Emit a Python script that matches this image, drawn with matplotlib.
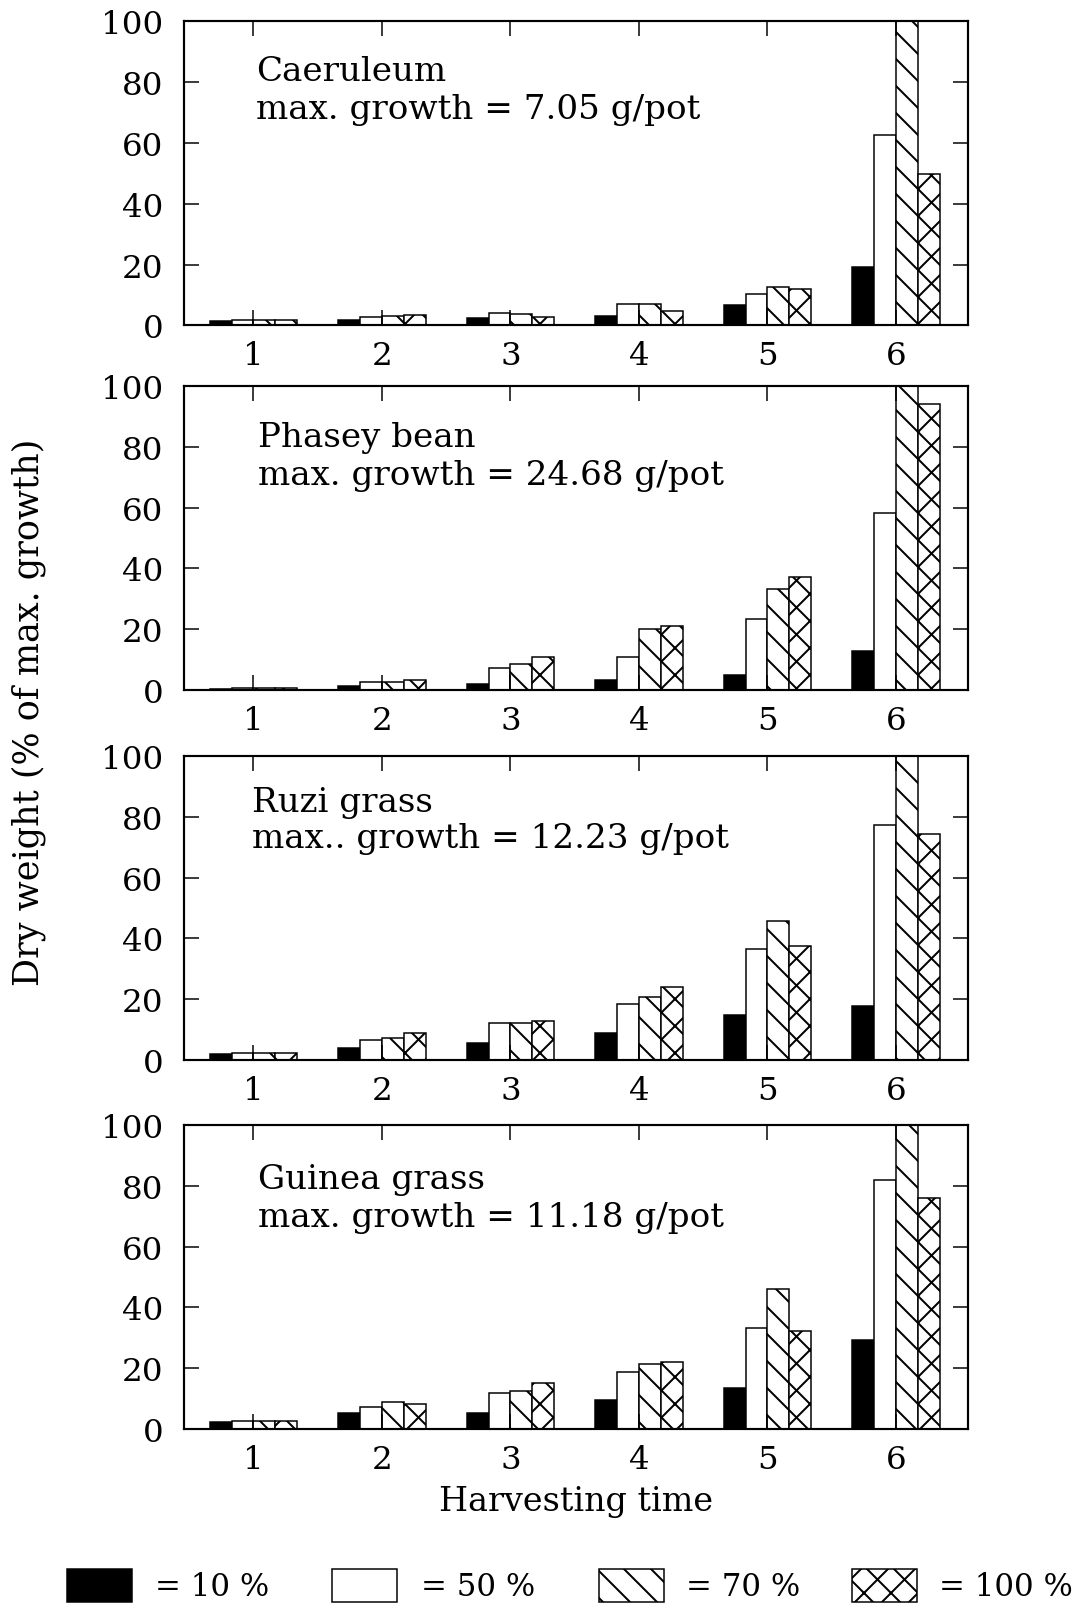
import matplotlib
matplotlib.use("Agg")
import matplotlib.pyplot as plt
from matplotlib.patches import Rectangle
import numpy as np

# Data (% of max. growth)
harvest = [1, 2, 3, 4, 5, 6]
levels = ["10 %", "50 %", "70 %", "100 %"]

caeruleum_10 = [1.4, 1.7, 2.5, 3.0, 6.7, 19.1]
caeruleum_50 = [1.9, 2.8, 4.2, 6.9, 10.2, 62.8]
caeruleum_70 = [1.9, 3.1, 3.8, 6.9, 12.7, 100.0]
caeruleum_100 = [1.9, 3.4, 2.9, 4.8, 12.0, 49.8]

phasey_10 = [0.3, 1.3, 2.1, 3.2, 4.9, 12.7]
phasey_50 = [0.8, 2.5, 7.3, 10.7, 23.5, 58.1]
phasey_70 = [0.8, 2.5, 8.7, 20.1, 33.1, 100.0]
phasey_100 = [0.8, 3.3, 10.8, 21.1, 37.2, 94.1]

ruzi_10 = [1.9, 4.0, 5.6, 8.8, 14.9, 17.7]
ruzi_50 = [2.2, 6.7, 12.1, 18.6, 36.4, 77.3]
ruzi_70 = [2.2, 7.3, 12.3, 20.6, 45.9, 100.0]
ruzi_100 = [2.3, 8.9, 12.8, 23.9, 37.4, 74.5]

guinea_10 = [2.4, 5.4, 5.4, 9.6, 13.4, 29.2]
guinea_50 = [2.6, 7.3, 11.9, 18.9, 33.1, 82.0]
guinea_70 = [2.6, 8.9, 12.5, 21.4, 46.0, 100.0]
guinea_100 = [2.6, 8.4, 15.2, 21.9, 32.1, 76.1]

species = ["Caeruleum", "Phasey bean", "Ruzi grass", "Guinea grass"]
notes = ["max. growth = 7.05 g/pot", "max. growth = 24.68 g/pot",
         "max.. growth = 12.23 g/pot", "max. growth = 11.18 g/pot"]
panels = [
    [caeruleum_10, caeruleum_50, caeruleum_70, caeruleum_100],
    [phasey_10, phasey_50, phasey_70, phasey_100],
    [ruzi_10, ruzi_50, ruzi_70, ruzi_100],
    [guinea_10, guinea_50, guinea_70, guinea_100],
]

# bar styles for each level
fills = ["black", "white", "white", "white"]
hatches = [None, None, "\\\\", "xx"]

# dpi picked so the hatch spacing comes out close to the original
DPI = 162
S = 120 / DPI  # sizes below were tuned in points at 120 dpi

plt.rcParams["font.family"] = ["DejaVu Serif"]
plt.rcParams["hatch.linewidth"] = 1.2 * S

fig = plt.figure(figsize=(1086 / DPI, 1605 / DPI), dpi=DPI)

# axes boxes [left, bottom, width, height] in figure fraction
boxes = [
    [0.1694, 0.7966, 0.7219, 0.1894],
    [0.1694, 0.5695, 0.7219, 0.1894],
    [0.1694, 0.3389, 0.7219, 0.1894],
    [0.1694, 0.1090, 0.7219, 0.1894],
]
text_pos = [(0.092, 0.837, 0.712), (0.094, 0.832, 0.707),
            (0.087, 0.849, 0.730), (0.094, 0.822, 0.697)]

x = np.array(harvest, dtype=float)
w = 0.17
for k, (box, series) in enumerate(zip(boxes, panels)):
    ax = fig.add_axes(box)
    for i, vals in enumerate(series):
        ax.bar(x + (i - 1.5) * w, vals, width=w, color=fills[i],
               edgecolor="black", linewidth=0.9 * S, hatch=hatches[i])
    ax.set_xlim(0.46, 6.56)
    ax.set_ylim(0, 100)
    ax.set_xticks(harvest)
    ax.set_yticks([0, 20, 40, 60, 80, 100])
    ax.tick_params(direction="in", top=True, right=True, length=9 * S,
                   width=0.9 * S, labelsize=19.5 * S, pad=12.5 * S)
    ax.tick_params(axis="x", pad=9 * S)
    for s in ax.spines.values():
        s.set_linewidth(1.3 * S)
    tx, ty1, ty2 = text_pos[k]
    ax.text(tx, ty1, species[k], transform=ax.transAxes, fontsize=20.5 * S,
            va="center", ha="left")
    ax.text(tx, ty2, notes[k], transform=ax.transAxes, fontsize=20.5 * S,
            va="center", ha="left")
    if k == 3:
        ax.set_xlabel("Harvesting time", fontsize=20 * S, labelpad=6 * S)

fig.text(29 / 1086, 1 - 712 / 1605, "Dry weight (% of max. growth)",
         rotation=90, fontsize=21 * S, ha="center", va="center")

# legend drawn along the bottom edge
leg_box_x = [67, 332, 599, 852]
leg_text_x = [155, 421, 686, 939]
for i in range(4):
    r = Rectangle((leg_box_x[i] / 1086, (1605 - 1603) / 1605), 65 / 1086, 33 / 1605,
                  transform=fig.transFigure, facecolor=fills[i],
                  edgecolor="black", linewidth=0.9 * S, hatch=hatches[i])
    fig.add_artist(r)
    fig.text(leg_text_x[i] / 1086, 1 - 1588 / 1605, "= " + levels[i],
             fontsize=18.5 * S, ha="left", va="center")

fig.savefig("out.png", dpi=DPI, facecolor="white")
